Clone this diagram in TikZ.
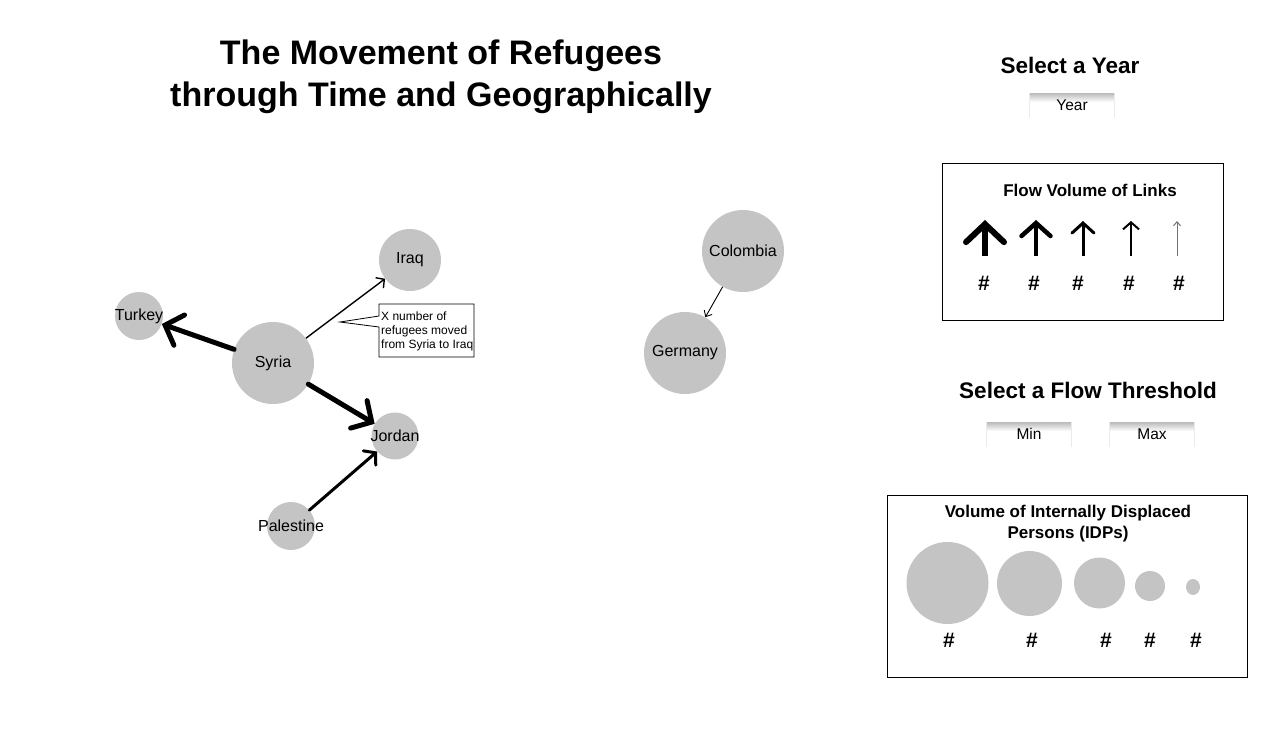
\documentclass[tikz,border=0pt]{standalone}
\usepackage{fontspec}
\setmainfont{Liberation Sans}
\usetikzlibrary{arrows.meta}
\definecolor{bubble}{HTML}{C4C4C4}
\begin{document}
\begin{tikzpicture}[x=1pt,y=-1pt,
  country/.style={circle,fill=bubble,inner sep=0pt,minimum size=#1},
  clabel/.style={font=\fontsize{16}{18}\selectfont},
  heading/.style={font=\fontsize{22.5}{27}\selectfont\bfseries},
  boxtitle/.style={font=\fontsize{17}{21}\selectfont\bfseries,align=center},
  hashlbl/.style={font=\fontsize{21}{24}\selectfont\bfseries},
  legendbox/.style={draw=black,line width=0.8pt},
  btn/.style={minimum width=86pt,minimum height=25pt,inner sep=0pt,
    text height=11pt,text depth=1pt,
    font=\fontsize{15.5}{18}\selectfont,
    path picture={
      \foreach \i in {0,...,8}{
        \pgfmathtruncatemacro\shadeval{max(0,27-3*\i)}
        \fill[black!\shadeval]
          ([yshift={-\i}]path picture bounding box.north west) rectangle
          ([yshift={-(\i+1)}]path picture bounding box.north east);
      }
      \fill[black!8] (path picture bounding box.north west) rectangle
        ([xshift=1.2pt]path picture bounding box.south west);
      \fill[black!8] ([xshift=-1.2pt]path picture bounding box.north east) rectangle
        (path picture bounding box.south east);
    }},
  flowbig/.style={line width=5pt,line cap=round,
    -{Straight Barb[length=15pt,width=32pt,line cap=round]}},
  flowmid/.style={line width=3pt,line cap=round,
    -{Straight Barb[length=8pt,width=19pt,line cap=round]}},
  flowthin/.style={line width=1.4pt,
    -{Straight Barb[length=6pt,width=13pt]}},
  flowtiny/.style={line width=0.9pt,
    -{Straight Barb[length=5pt,width=9pt]}},
]
\useasboundingbox (0,0) rectangle (1274,728);

% Title
\node[font=\fontsize{34}{42}\selectfont\bfseries,align=center] (title) at (441,77)
  {The Movement of Refugees\\through Time and Geographically};

% Countries
\node[country=82pt,label={[clabel]center:Syria}] (syria) at (273,363) {};
\node[country=48pt,label={[clabel]center:Turkey}] (turkey) at (139,316) {};
\node[country=62pt,label={[clabel]center:Iraq}] (iraq) at (410,260) {};
\node[country=47pt,label={[clabel]center:Jordan}] (jordan) at (395,436) {};
\node[country=48pt,label={[clabel]center:Palestine}] (palestine) at (291,526) {};
\node[country=82pt,label={[clabel]center:Colombia}] (colombia) at (743,251) {};
\node[country=82pt,label={[clabel]center:Germany}] (germany) at (685,353) {};

% Flows
\draw[flowbig] (syria) -- (turkey);
\draw[flowbig] (syria) -- (jordan);
\draw[flowmid] (palestine) -- (jordan);
\draw[flowthin] (syria) -- (iraq);
\draw[flowtiny] (colombia) -- (germany);

% Tooltip
\draw[fill=white,line width=0.8pt] (379,304) -- (474,304) -- (474,357) -- (379,357)
  -- (379,327) -- (340,322) -- (379,316) -- cycle;
\node[anchor=north west,inner sep=0pt,align=left,font=\fontsize{12}{14}\selectfont] (tip)
  at (381,312) {X number of\\refugees moved\\from Syria to Iraq};

% Select a Year
\node[heading] (selyear) at (1070,65) {Select a Year};
\node[btn] (year) at (1072,105.5) {Year};

% Flow volume legend
\draw[legendbox] (942,163) rectangle (1223,320);
\node[boxtitle] (flowtitle) at (1090,190) {Flow Volume of Links};
\coordinate (a1b) at (985,256); \coordinate (a1t) at (985,220);
\coordinate (a2b) at (1036,256); \coordinate (a2t) at (1036,220);
\coordinate (a3b) at (1083,256); \coordinate (a3t) at (1083,221);
\coordinate (a4b) at (1131,256); \coordinate (a4t) at (1131,221);
\coordinate (a5b) at (1177,256); \coordinate (a5t) at (1177,221);
\draw[line width=6pt,-{Straight Barb[length=18pt,width=38pt,line cap=round]}] (a1b) -- (a1t);
\draw[line width=4.5pt,-{Straight Barb[length=13pt,width=29pt,line cap=round]}] (a2b) -- (a2t);
\draw[line width=3pt,-{Straight Barb[length=10pt,width=22pt,line cap=round]}] (a3b) -- (a3t);
\draw[line width=2pt,-{Straight Barb[length=7pt,width=16pt]}] (a4b) -- (a4t);
\draw[line width=1pt,black!55,-{Straight Barb[length=4pt,width=7pt]}] (a5b) -- (a5t);
\node[hashlbl] (f1) at (984,283) {\#};
\node[hashlbl] (f2) at (1034,283) {\#};
\node[hashlbl] (f3) at (1078,283) {\#};
\node[hashlbl] (f4) at (1129,283) {\#};
\node[hashlbl] (f5) at (1179,283) {\#};

% Threshold
\node[heading] (selthr) at (1088,390) {Select a Flow Threshold};
\node[btn] (min) at (1029,434.5) {Min};
\node[btn] (max) at (1152,434.5) {Max};

% IDP legend
\draw[legendbox] (887,495) rectangle (1247,677);
\node[boxtitle] (idptitle) at (1068,524) {Volume of Internally Displaced\\Persons (IDPs)};
\node[country=82pt] (c1) at (947.5,583) {};
\node[country=65pt] (c2) at (1029.5,583.5) {};
\node[country=51pt] (c3) at (1099.5,583) {};
\node[country=30pt] (c4) at (1150,586) {};
\fill[bubble] (1193,587) ellipse (7pt and 8pt);
\node[hashlbl] (h1) at (949,640) {\#};
\node[hashlbl] (h2) at (1032,640) {\#};
\node[hashlbl] (h3) at (1106,640) {\#};
\node[hashlbl] (h4) at (1150,640) {\#};
\node[hashlbl] (h5) at (1196,640) {\#};
\end{tikzpicture}
\end{document}
